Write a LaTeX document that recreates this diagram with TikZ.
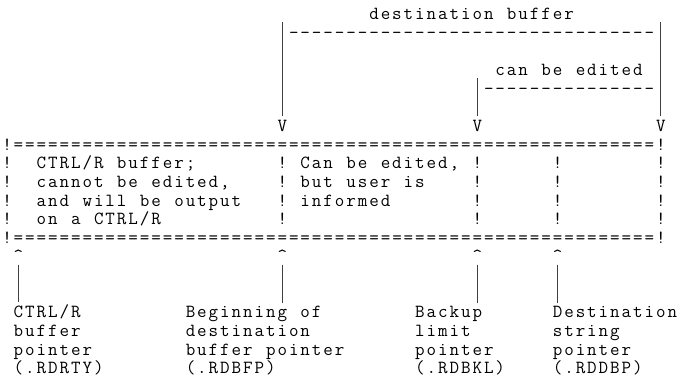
\documentclass[tikz,border=0pt]{standalone}
\ExplSyntaxOn
\NewDocumentCommand\gridtext{m}{\str_map_inline:nn{#1}{\makebox[11.47pt][c]{##1}}}
\ExplSyntaxOff
\newcommand\onecell[1]{\makebox[11.47pt][c]{#1}}
\tikzset{
  g/.style={anchor=base west, inner sep=0pt, outer sep=0pt,
            font=\ttfamily\fontsize{18.5}{18.65}\selectfont, text=black},
  conn/.style={draw=black!75, line width=0.9pt},
}
\begin{document}
\begin{tikzpicture}[x=11.47pt, y=-18.65pt]
\useasboundingbox ([xshift=-1.3pt,yshift=19.5pt]0,0) rectangle ([xshift=690.7pt,yshift=-363.5pt]0,0);
% top part
\node[g] (dest) at (32,0) {\gridtext{destination buffer}};
\node[g] (dashA) at (25,1) {\gridtext{--------------------------------}};
\node[g] (edit) at (43,3) {\gridtext{can be edited}};
\node[g] (dashB) at (42,4) {\gridtext{---------------}};
\node[g] (vA) at (24,6) {\gridtext{V}};
\node[g] (vB) at (41,6) {\gridtext{V}};
\node[g] (vC) at (57,6) {\gridtext{V}};
\coordinate (topA) at ([yshift=16pt]24.5,1);
\coordinate (topB) at ([yshift=16pt]41.5,4);
\coordinate (topC) at ([yshift=16pt]57.5,1);
\draw[conn] (topA) -- ([yshift=4pt]vA.north);
\draw[conn] (topB) -- ([yshift=4pt]vB.north);
\draw[conn] (topC) -- ([yshift=4pt]vC.north);
% box
\node[g] (boxtop) at (0,7) {\gridtext{!========================================================!}};
\node[g] (boxbot) at (0,12) {\gridtext{!========================================================!}};
\foreach \r in {8,...,11} {
  \foreach \c in {0,24,41,48,57} {
    \node[g] (s\c-\r) at (\c,\r) {\gridtext{!}};
  }
}
\node[g] (t1) at (3,8) {\gridtext{CTRL/R buffer;}};
\node[g] (t2) at (3,9) {\gridtext{cannot be edited,}};
\node[g] (t3) at (3,10) {\gridtext{and will be output}};
\node[g] (t4) at (3,11) {\gridtext{on a CTRL/R}};
\node[g] (u1) at (26,8) {\gridtext{Can be edited,}};
\node[g] (u2) at (26,9) {\gridtext{but user is}};
\node[g] (u3) at (26,10) {\gridtext{informed}};
% carets
\node[g] (cA) at (1,13) {\onecell{\textasciicircum}};
\node[g] (cB) at (24,13) {\onecell{\textasciicircum}};
\node[g] (cC) at (41,13) {\onecell{\textasciicircum}};
\node[g] (cD) at (48,13) {\onecell{\textasciicircum}};
% labels
\node[g] (lA1) at (1,16) {\gridtext{CTRL/R}};
\node[g] (lA2) at (1,17) {\gridtext{buffer}};
\node[g] (lA3) at (1,18) {\gridtext{pointer}};
\node[g] (lA4) at (1,19) {\gridtext{(.RDRTY)}};
\node[g] (lB1) at (16,16) {\gridtext{Beginning of}};
\node[g] (lB2) at (16,17) {\gridtext{destination}};
\node[g] (lB3) at (16,18) {\gridtext{buffer pointer}};
\node[g] (lB4) at (16,19) {\gridtext{(.RDBFP)}};
\node[g] (lC1) at (36,16) {\gridtext{Backup}};
\node[g] (lC2) at (36,17) {\gridtext{limit}};
\node[g] (lC3) at (36,18) {\gridtext{pointer}};
\node[g] (lC4) at (36,19) {\gridtext{(.RDBKL)}};
\node[g] (lD1) at (48,16) {\gridtext{Destination}};
\node[g] (lD2) at (48,17) {\gridtext{string}};
\node[g] (lD3) at (48,18) {\gridtext{pointer}};
\node[g] (lD4) at (48,19) {\gridtext{(.RDDBP)}};
% pointer connectors
\draw[conn] ([yshift=-2.6pt]cA.base) -- ([yshift=3.5pt]lA1.north -| cA.base);
\draw[conn] ([yshift=-2.6pt]cB.base) -- ([yshift=3.5pt]lB1.north -| cB.base);
\draw[conn] ([yshift=-2.6pt]cC.base) -- ([yshift=3.5pt]lC1.north -| cC.base);
\draw[conn] ([yshift=-2.6pt]cD.base) -- ([yshift=3.5pt]lD1.north -| cD.base);
\end{tikzpicture}
\end{document}
